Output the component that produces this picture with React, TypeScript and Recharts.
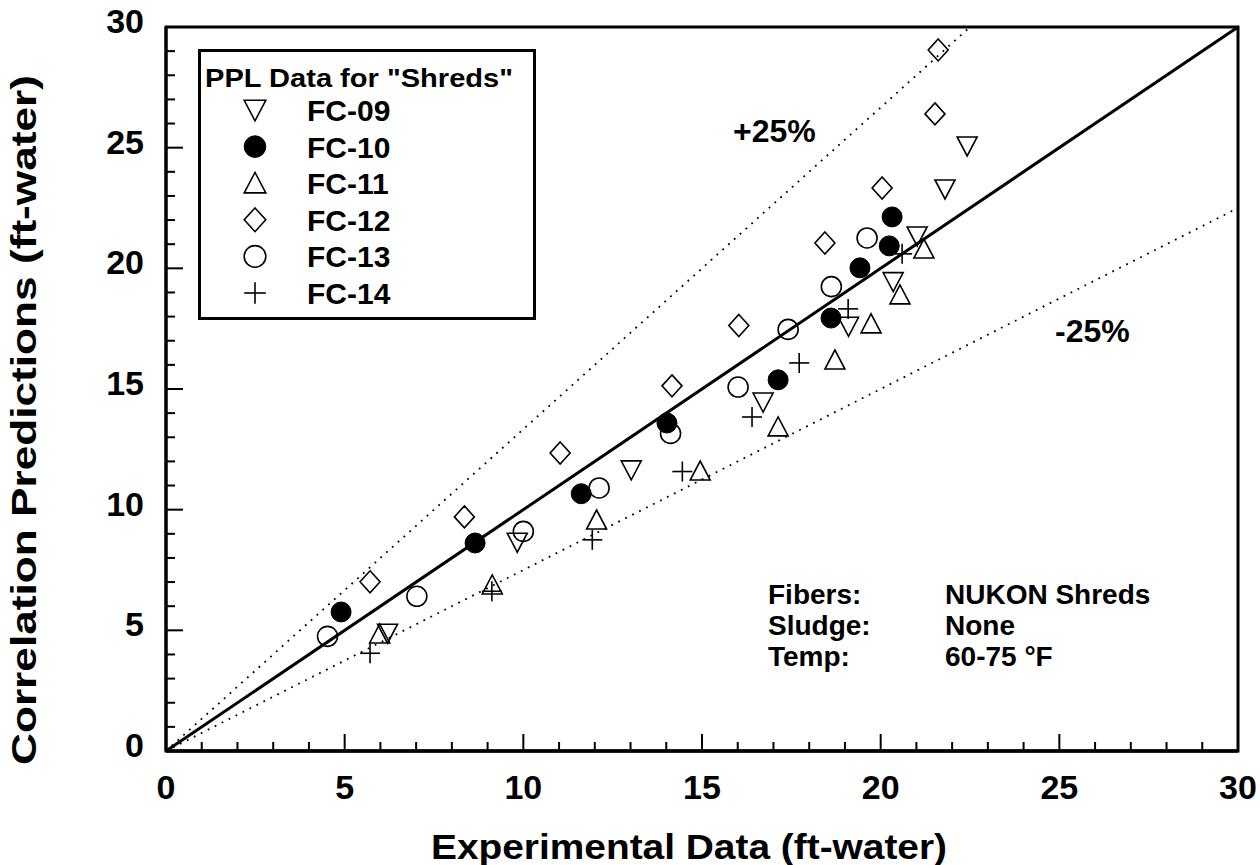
import React from 'react';
import { ScatterChart, Scatter, XAxis, YAxis, ReferenceLine, ReferenceArea, Legend } from 'recharts';

const FONT = '"Liberation Sans", Arial, Helvetica, sans-serif';

// ---- data ----
const axisTicks = [0, 1, 2, 3, 4, 5, 6, 7, 8, 9, 10, 11, 12, 13, 14, 15, 16, 17, 18, 19, 20, 21, 22, 23, 24, 25, 26, 27, 28, 29, 30];
const majorTicks = [0, 5, 10, 15, 20, 25, 30];

const fc09X = [6.2, 9.83, 13.02, 16.71, 19.1, 20.35, 21.02, 21.8, 22.42];
const fc09Y = [4.88, 8.65, 11.65, 14.46, 17.6, 19.45, 21.34, 23.29, 25.07];
const fc10X = [4.9, 8.65, 11.62, 14.02, 17.13, 18.61, 19.42, 20.24, 20.32];
const fc10Y = [5.76, 8.62, 10.66, 13.59, 15.38, 17.94, 20.02, 20.93, 22.13];
const fc11X = [5.98, 9.13, 12.05, 14.95, 17.13, 18.72, 19.73, 20.54, 21.21];
const fc11Y = [4.85, 6.88, 9.57, 11.6, 13.43, 16.2, 17.7, 18.9, 20.8];
const fc12X = [5.71, 8.35, 11.03, 14.16, 16.03, 18.44, 20.04, 21.52, 21.61];
const fc12Y = [7.01, 9.7, 12.35, 15.13, 17.63, 21.05, 23.33, 26.4, 29.05];
const fc13X = [4.52, 7.02, 10.0, 12.12, 14.12, 16.01, 17.41, 18.62, 19.62];
const fc13Y = [4.75, 6.41, 9.1, 10.9, 13.16, 15.08, 17.47, 19.24, 21.26];
const fc14X = [5.71, 9.12, 11.93, 14.45, 16.4, 17.72, 19.09, 20.6];
const fc14Y = [4.05, 6.62, 8.75, 11.58, 13.84, 16.08, 18.32, 20.6];

const seriesNames = ['FC-09', 'FC-10', 'FC-11', 'FC-12', 'FC-13', 'FC-14'];
const seriesKinds = ['down', 'filled', 'up', 'diamond', 'open', 'plus'];

const upperRatio = 1 / 0.75; // +25% band
const lowerRatio = 0.75; // -25% band
const AXIS_MAX = 30;

const toPoints = (xs: number[], ys: number[]) => xs.map((x, i) => ({ x, y: ys[i] }));
const seriesData = [
  toPoints(fc09X, fc09Y),
  toPoints(fc10X, fc10Y),
  toPoints(fc11X, fc11Y),
  toPoints(fc12X, fc12Y),
  toPoints(fc13X, fc13Y),
  toPoints(fc14X, fc14Y),
];

// ---- markers ----
const Marker = ({ kind, cx, cy, s = 1 }: { kind: string; cx: number; cy: number; s?: number }) => {
  const sw = 1.6;
  if (kind === 'filled') return <circle cx={cx} cy={cy} r={10 * s} fill="#000" stroke="#000" strokeWidth={1} />;
  if (kind === 'open') return <circle cx={cx} cy={cy} r={10 * s} fill="none" stroke="#000" strokeWidth={sw} />;
  if (kind === 'down')
    return (
      <polygon
        points={`${cx - 10 * s},${cy - 9 * s} ${cx + 10 * s},${cy - 9 * s} ${cx},${cy + 10 * s}`}
        fill="none"
        stroke="#000"
        strokeWidth={sw}
      />
    );
  if (kind === 'up')
    return (
      <polygon
        points={`${cx - 10 * s},${cy + 9 * s} ${cx + 10 * s},${cy + 9 * s} ${cx},${cy - 10 * s}`}
        fill="none"
        stroke="#000"
        strokeWidth={sw}
      />
    );
  if (kind === 'diamond')
    return (
      <polygon
        points={`${cx},${cy - 11 * s} ${cx + 10 * s},${cy} ${cx},${cy + 11 * s} ${cx - 10 * s},${cy}`}
        fill="none"
        stroke="#000"
        strokeWidth={sw}
      />
    );
  return (
    <g stroke="#000" strokeWidth={sw}>
      <line x1={cx - 10 * s} x2={cx + 10 * s} y1={cy} y2={cy} />
      <line x1={cx} x2={cx} y1={cy - 10 * s} y2={cy + 10 * s} />
    </g>
  );
};

// ---- ticks ----
const XTick = (props: any) => {
  const { x, y, payload } = props;
  const v = payload.value;
  const major = majorTicks.includes(v);
  return (
    <g>
      <line x1={x} x2={x} y1={y} y2={y - (major ? 17 : 9)} stroke="#000" strokeWidth={2} />
      {major && (
        <text x={x} y={y + 48} textAnchor="middle" fontFamily={FONT} fontWeight="bold" fontSize={34} fill="#000">
          {v}
        </text>
      )}
    </g>
  );
};

const YTick = (props: any) => {
  const { x, y, payload } = props;
  const v = payload.value;
  const major = majorTicks.includes(v);
  return (
    <g>
      <line x1={x} x2={x + (major ? 17 : 9)} y1={y} y2={y} stroke="#000" strokeWidth={2} />
      {major && (
        <text x={x - 22} y={y + 6} textAnchor="end" fontFamily={FONT} fontWeight="bold" fontSize={34} fill="#000">
          {v}
        </text>
      )}
    </g>
  );
};

// ---- legend ----
const LegendBox = (props: any) => {
  const payload = props && props.payload && props.payload.length ? props.payload : null;
  const names: string[] = payload ? payload.map((p: any) => p.value) : seriesNames;
  return (
    <svg width={338} height={271} style={{ display: 'block' }}>
      <rect x={1.5} y={1.5} width={335} height={268} fill="#fff" stroke="#000" strokeWidth={3} />
      <text
        x={7}
        y={38}
        fontFamily={FONT}
        fontWeight="bold"
        fontSize={25}
        fill="#000"
        textLength={308}
        lengthAdjust="spacingAndGlyphs"
      >
        PPL Data for "Shreds"
      </text>
      {names.map((n, i) => {
        const cy = 61 + i * 36.6;
        const kind = seriesKinds[seriesNames.indexOf(n)] || 'open';
        return (
          <g key={n}>
            <Marker kind={kind} cx={57} cy={cy} s={1.08} />
            <text x={109} y={cy + 11} fontFamily={FONT} fontWeight="bold" fontSize={30} fill="#000">
              {n}
            </text>
          </g>
        );
      })}
    </svg>
  );
};

export default function App() {
  const txt = { fontFamily: FONT, fontWeight: 'bold' as const, fill: '#000' };
  return (
    <div style={{ position: 'absolute', left: 0, top: 0, width: 1260, height: 865, background: '#fff' }}>
      <ScatterChart width={1260} height={865} margin={{ top: 27, right: 22, left: 0, bottom: 0 }}>
        <XAxis
          type="number"
          dataKey="x"
          domain={[0, AXIS_MAX]}
          ticks={axisTicks}
          interval={0}
          allowDataOverflow
          height={114}
          tickSize={0}
          tickMargin={0}
          tickLine={false}
          tick={<XTick />}
          axisLine={{ stroke: '#000', strokeWidth: 3.5 }}
        />
        <YAxis
          type="number"
          dataKey="y"
          domain={[0, AXIS_MAX]}
          ticks={axisTicks}
          interval={0}
          allowDataOverflow
          width={166}
          tickSize={0}
          tickMargin={0}
          tickLine={false}
          tick={<YTick />}
          axisLine={{ stroke: '#000', strokeWidth: 3 }}
        />
        <ReferenceArea x1={0} x2={AXIS_MAX} y1={0} y2={AXIS_MAX} fill="none" fillOpacity={0} stroke="#000" strokeWidth={3} />
        <ReferenceLine
          segment={[
            { x: 0, y: 0 },
            { x: AXIS_MAX, y: AXIS_MAX },
          ]}
          stroke="#000"
          strokeWidth={3}
        />
        <ReferenceLine
          segment={[
            { x: 0, y: 0 },
            { x: AXIS_MAX / upperRatio, y: AXIS_MAX },
          ]}
          stroke="#000"
          strokeWidth={1.8}
          strokeDasharray="1.8 6"
        />
        <ReferenceLine
          segment={[
            { x: 0, y: 0 },
            { x: AXIS_MAX, y: AXIS_MAX * lowerRatio },
          ]}
          stroke="#000"
          strokeWidth={1.8}
          strokeDasharray="1.8 6"
        />
        {seriesData.map((d, i) => (
          <Scatter
            key={seriesNames[i]}
            name={seriesNames[i]}
            data={d}
            fill="#000"
            isAnimationActive={false}
            shape={(p: any) => <Marker kind={seriesKinds[i]} cx={p.cx} cy={p.cy} />}
          />
        ))}
        <Legend
          layout="vertical"
          align="center"
          verticalAlign="middle"
          content={<LegendBox />}
          wrapperStyle={{ left: 198, top: 49, width: 338, height: 271 }}
        />
      </ScatterChart>
      <svg
        width={1260}
        height={865}
        style={{ position: 'absolute', left: 0, top: 0, pointerEvents: 'none' }}
      >
        <text
          {...txt}
          x={36}
          y={420}
          fontSize={35}
          textAnchor="middle"
          transform="rotate(-90, 36, 420)"
          textLength={690}
          lengthAdjust="spacingAndGlyphs"
        >
          Correlation Predictions (ft-water)
        </text>
        <text {...txt} x={689} y={859} fontSize={35} textAnchor="middle" textLength={516} lengthAdjust="spacingAndGlyphs">
          Experimental Data (ft-water)
        </text>
        <text {...txt} x={733} y={142} fontSize={32}>+25%</text>
        <text {...txt} x={1055} y={342} fontSize={32}>-25%</text>
        <text {...txt} x={768} y={604} fontSize={28}>Fibers:</text>
        <text {...txt} x={945} y={604} fontSize={28}>NUKON Shreds</text>
        <text {...txt} x={768} y={635} fontSize={28}>Sludge:</text>
        <text {...txt} x={945} y={635} fontSize={28}>None</text>
        <text {...txt} x={768} y={666} fontSize={28}>Temp:</text>
        <text {...txt} x={945} y={666} fontSize={28}>60-75 °F</text>
      </svg>
    </div>
  );
}
